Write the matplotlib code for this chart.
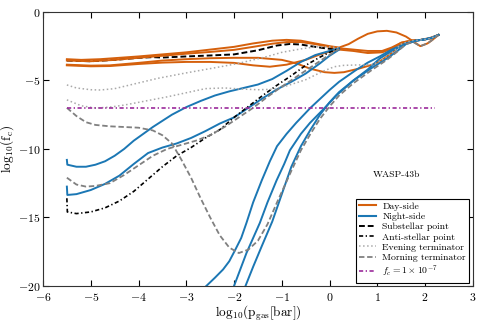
import matplotlib
matplotlib.use("Agg")
import matplotlib.pyplot as plt
from matplotlib.lines import Line2D

plt.rcParams['font.family'] = 'serif'
plt.rcParams['font.serif'] = ['cmr10', 'DejaVu Serif']
plt.rcParams['mathtext.fontset'] = 'cm'
plt.rcParams['axes.formatter.use_mathtext'] = True

# ---- day-side (orange) ----
day1_x = [-5.5, -5.2, -4.8, -4.4, -4.0, -3.5, -3.0, -2.5, -2.0, -1.6, -1.2, -0.9, -0.6, -0.3, 0.0, 0.2, 0.4, 0.6, 0.8, 1.0, 1.2, 1.4, 1.6, 1.75, 1.9, 2.05, 2.15, 2.28]
day1_y = [-3.45, -3.5, -3.45, -3.35, -3.25, -3.1, -2.95, -2.75, -2.55, -2.3, -2.1, -2.04, -2.1, -2.3, -2.5, -2.6, -2.35, -1.95, -1.6, -1.42, -1.38, -1.5, -1.8, -2.15, -2.5, -2.3, -2.05, -1.68]
day2_x = [-5.5, -5.0, -4.5, -4.0, -3.5, -3.0, -2.5, -2.0, -1.6, -1.2, -0.9, -0.6, -0.3, 0.0, 0.2, 0.5, 0.8, 1.1, 1.3, 1.5, 1.7, 1.9, 2.1, 2.28]
day2_y = [-3.55, -3.6, -3.5, -3.35, -3.2, -3.05, -2.92, -2.77, -2.55, -2.32, -2.2, -2.2, -2.35, -2.55, -2.65, -2.75, -2.85, -2.85, -2.6, -2.25, -2.1, -2.05, -1.95, -1.68]
day3_x = [-5.5, -5.0, -4.6, -4.0, -3.5, -3.0, -2.5, -2.0, -1.5, -1.0, -0.7, -0.4, -0.1, 0.1, 0.3, 0.6, 0.9, 1.1, 1.3, 1.5, 1.7, 1.9, 2.1, 2.28]
day3_y = [-3.85, -3.92, -3.9, -3.72, -3.55, -3.45, -3.38, -3.35, -3.35, -3.5, -3.75, -4.15, -4.4, -4.45, -4.4, -4.15, -3.85, -3.5, -3.0, -2.35, -2.1, -2.05, -1.9, -1.68]
day4_x = [-5.5, -5.0, -4.6, -4.0, -3.5, -3.0, -2.5, -2.0, -1.6, -1.25, -0.9, -0.5, -0.2, 0.0, 0.2, 0.5, 0.8, 1.1, 1.3, 1.5, 1.7, 1.9, 2.1, 2.28]
day4_y = [-3.9, -3.97, -3.95, -3.8, -3.7, -3.65, -3.65, -3.72, -3.9, -4.0, -3.85, -3.5, -3.1, -2.9, -2.75, -2.85, -3.0, -2.95, -2.7, -2.25, -2.1, -2.05, -1.95, -1.68]

# ---- night-side (blue) ----
night1_x = [-5.5, -5.49, -5.3, -5.1, -4.9, -4.7, -4.5, -4.3, -4.1, -3.9, -3.7, -3.5, -3.3, -3.0, -2.7, -2.4, -2.1, -1.8, -1.5, -1.2, -0.9, -0.6, -0.3, 0.0, 0.2]
night1_y = [-10.8, -11.15, -11.3, -11.3, -11.15, -10.9, -10.5, -10.0, -9.4, -8.9, -8.4, -7.95, -7.5, -6.95, -6.5, -6.1, -5.8, -5.55, -5.3, -4.9, -4.3, -3.65, -3.15, -2.85, -2.65]
night2_x = [-5.5, -5.49, -5.3, -5.0, -4.7, -4.4, -4.1, -3.8, -3.5, -3.2, -2.9, -2.6, -2.3, -2.0, -1.7, -1.4, -1.1, -0.8, -0.5, -0.2, 0.0, 0.2]
night2_y = [-12.75, -13.36, -13.3, -13.0, -12.55, -11.95, -11.1, -10.3, -9.9, -9.6, -9.2, -8.7, -8.15, -7.7, -7.0, -6.3, -5.65, -5.1, -4.5, -3.75, -3.2, -2.75]
night3_x = [-2.58, -2.4, -2.23, -2.1, -1.98, -1.85, -1.74, -1.6, -1.42, -1.25, -1.1, -0.9, -0.7, -0.4, 0.0, 0.2, 0.55, 0.8, 1.05, 1.3, 1.6, 1.8, 2.0, 2.15, 2.28]
night3_y = [-20.0, -19.4, -18.8, -18.2, -17.4, -16.5, -15.4, -13.9, -12.3, -10.9, -9.8, -8.9, -8.1, -7.0, -5.7, -5.1, -4.25, -3.7, -3.25, -2.75, -2.3, -2.1, -2.0, -1.88, -1.68]
night4_x = [-2.0, -1.87, -1.74, -1.6, -1.46, -1.3, -1.11, -0.95, -0.83, -0.6, -0.41, -0.1, 0.14, 0.5, 0.8, 1.05, 1.3, 1.6, 1.8, 2.0, 2.15, 2.28]
night4_y = [-20.0, -18.8, -17.6, -16.5, -15.4, -13.9, -12.3, -11.1, -10.1, -8.9, -8.1, -7.0, -6.1, -5.0, -4.2, -3.4, -2.85, -2.3, -2.1, -2.0, -1.88, -1.68]
night5_x = [-1.76, -1.6, -1.42, -1.2, -1.0, -0.8, -0.6, -0.4, -0.2, 0.0, 0.2, 0.5, 0.9, 1.2, 1.4, 1.6, 1.8, 2.0, 2.15, 2.28]
night5_y = [-20.0, -18.6, -17.1, -15.3, -13.3, -11.3, -9.8, -8.6, -7.5, -6.6, -5.85, -5.0, -4.05, -3.4, -2.9, -2.35, -2.1, -2.0, -1.88, -1.68]

# ---- substellar / anti-stellar ----
sub_x = [-5.5, -5.0, -4.5, -4.0, -3.7, -3.5, -3.0, -2.5, -2.0, -1.5, -1.1, -0.83, -0.6, -0.4, -0.1, 0.2]
sub_y = [-3.55, -3.6, -3.5, -3.35, -3.3, -3.33, -3.25, -3.18, -3.1, -2.8, -2.45, -2.34, -2.38, -2.5, -2.65, -2.77]
anti_x = [-5.5, -5.49, -5.3, -5.0, -4.7, -4.4, -4.1, -3.8, -3.5, -3.2, -2.9, -2.6, -2.3, -2.0, -1.7, -1.4, -1.1, -0.8, -0.5, -0.2, 0.0, 0.2]
anti_y = [-13.6, -14.6, -14.72, -14.6, -14.3, -13.8, -13.1, -12.2, -11.3, -10.5, -9.9, -9.2, -8.6, -7.7, -6.9, -6.1, -5.35, -4.65, -3.9, -3.3, -2.95, -2.65]

# ---- terminators ----
eve1_x = [-5.5, -5.3, -5.0, -4.8, -4.5, -4.2, -3.9, -3.6, -3.3, -3.0, -2.6, -2.2, -1.9, -1.6, -1.3, -1.0, -0.6, -0.3, 0.0, 0.2]
eve1_y = [-5.33, -5.55, -5.68, -5.7, -5.6, -5.35, -5.1, -4.85, -4.65, -4.45, -4.2, -3.95, -3.75, -3.5, -3.25, -2.95, -2.7, -2.55, -2.55, -2.62]
eve2_x = [-5.5, -5.2, -4.9, -4.6, -4.3, -4.0, -3.7, -3.4, -3.0, -2.6, -2.2, -1.9, -1.5, -1.2, -0.9, -0.5, -0.15, 0.1, 0.3, 0.6, 0.9, 1.1, 1.3, 1.5, 1.7, 1.9, 2.1, 2.28]
eve2_y = [-6.42, -6.85, -7.02, -6.95, -6.8, -6.6, -6.4, -6.2, -5.9, -5.6, -5.55, -5.62, -5.68, -5.65, -5.4, -4.95, -4.35, -4.0, -3.9, -3.87, -3.85, -3.5, -3.0, -2.35, -2.1, -2.05, -1.95, -1.68]
morn1_x = [-5.5, -5.3, -5.1, -4.9, -4.6, -4.3, -4.0, -3.7, -3.5, -3.3, -3.1, -2.9, -2.7, -2.5, -2.3, -2.1, -1.9, -1.7, -1.5, -1.3, -1.1, -0.95, -0.8, -0.6, -0.4, -0.2, 0.0, 0.2, 0.5, 0.9, 1.2, 1.4, 1.6, 1.75, 1.9, 2.05, 2.15, 2.28]
morn1_y = [-7.0, -7.6, -8.05, -8.25, -8.35, -8.4, -8.45, -8.65, -9.0, -9.6, -10.8, -12.1, -13.6, -15.0, -16.3, -17.2, -17.6, -17.35, -16.7, -15.5, -13.9, -12.75, -11.6, -10.1, -8.9, -7.8, -6.9, -6.1, -5.2, -4.2, -3.5, -2.95, -2.35, -2.2, -2.5, -2.3, -2.05, -1.68]
morn2_x = [-5.5, -5.3, -5.1, -4.9, -4.6, -4.3, -4.0, -3.7, -3.4, -3.1, -2.8, -2.5, -2.2, -1.9, -1.6, -1.3, -1.0, -0.7, -0.4, -0.1, 0.2]
morn2_y = [-12.1, -12.6, -12.75, -12.7, -12.5, -11.9, -11.2, -10.5, -10.0, -9.7, -9.4, -9.0, -8.4, -7.7, -7.0, -6.2, -5.45, -4.75, -4.05, -3.35, -2.7]

fc_x = [-5.5, 2.2]
fc_y = [-7.0, -7.0]

orange = '#d5600c'
blue = '#1b77b4'
purple = '#9b2a9b'
dashdot = (0, (2.5, 1.5, 0.8, 1.5))

fig, ax = plt.subplots(figsize=(4.83, 3.22), dpi=100)
fig.subplots_adjust(left=0.089, right=0.979, bottom=0.112, top=0.963)

ax.plot(sub_x, sub_y, color='black', ls=(0, (3, 1.5)), lw=1.4, zorder=1)
for x, y in [(day1_x, day1_y), (day2_x, day2_y), (day3_x, day3_y), (day4_x, day4_y)]:
    ax.plot(x, y, color=orange, lw=1.4, zorder=2)
for x, y in [(night1_x, night1_y), (night2_x, night2_y), (night3_x, night3_y),
             (night4_x, night4_y), (night5_x, night5_y)]:
    ax.plot(x, y, color=blue, lw=1.4, zorder=2)
ax.plot(anti_x, anti_y, color='black', ls=dashdot, lw=1.2, zorder=3)
for x, y in [(eve1_x, eve1_y), (eve2_x, eve2_y)]:
    ax.plot(x, y, color='darkgrey', ls=':', lw=1.1, zorder=3)
for x, y in [(morn1_x, morn1_y), (morn2_x, morn2_y)]:
    ax.plot(x, y, color='grey', ls=(0, (3, 1.5)), lw=1.3, zorder=3)
ax.plot(fc_x, fc_y, color=purple, ls=dashdot, lw=1.2, zorder=3)

ax.set_xlim(-6, 3)
ax.set_ylim(-20, 0)
ax.set_xticks(range(-6, 4))
ax.set_yticks([0, -5, -10, -15, -20])
ax.tick_params(direction='in', top=True, right=True, labelsize=8.5, length=4, pad=2)
ax.tick_params(axis='x', pad=4)
for s in ax.spines.values():
    s.set_color('#333333')
ax.set_xlabel(r'$\mathrm{log_{10}(p_{gas}[bar])}$', fontsize=9.5, labelpad=0)
ax.set_ylabel(r'$\mathrm{log_{10}(f_c)}$', fontsize=9.5, labelpad=1)

ax.text(1.4, -11.9, 'WASP-43b', fontsize=7, ha='center', va='center')

handles = [
    Line2D([], [], color=orange, lw=1.5),
    Line2D([], [], color=blue, lw=1.5),
    Line2D([], [], color='black', ls=(0, (3, 1.5)), lw=1.4),
    Line2D([], [], color='black', ls=dashdot, lw=1.2),
    Line2D([], [], color='darkgrey', ls=':', lw=1.1),
    Line2D([], [], color='grey', ls=(0, (3, 1.5)), lw=1.3),
    Line2D([], [], color=purple, ls=dashdot, lw=1.2),
]
labels = ['Day-side', 'Night-side', 'Substellar point', 'Anti-stellar point',
          'Evening terminator', 'Morning terminator', r'$f_c = 1\times10^{-7}$']
leg = ax.legend(handles, labels, loc='lower right', fontsize=7, fancybox=False,
                edgecolor='black', framealpha=1, labelspacing=0.15, handlelength=1.7,
                handletextpad=0.7, borderpad=0.35, borderaxespad=0.35)
leg.get_frame().set_linewidth(0.8)

fig.savefig('out.png', dpi=100)
